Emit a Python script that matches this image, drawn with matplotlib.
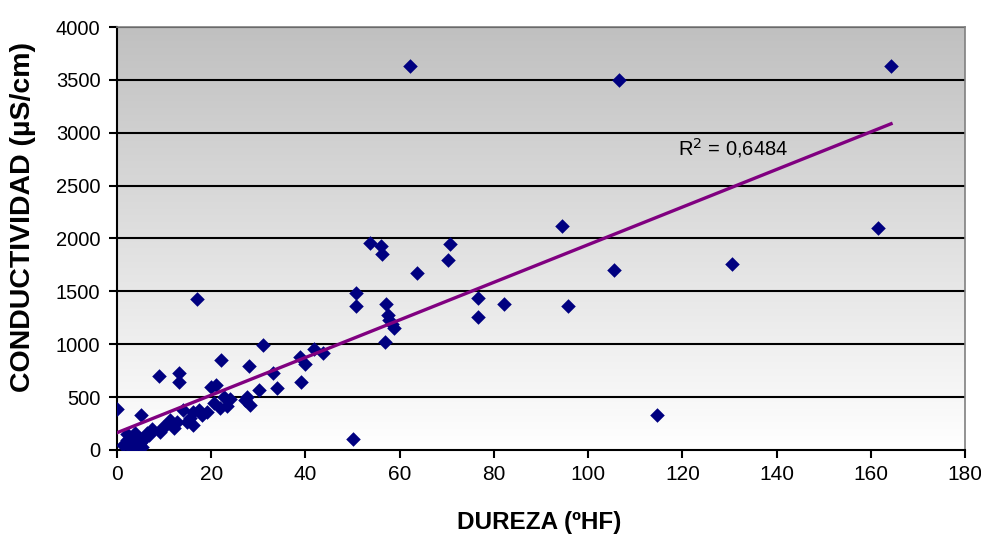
import numpy as np
import matplotlib
matplotlib.use('Agg')
import matplotlib.pyplot as plt
from matplotlib.colors import LinearSegmentedColormap

# Data: hardness (ºHF) vs conductivity (uS/cm)
dureza = [0, 62.2, 106.6, 164.3, 94.5, 161.5, 105.5, 130.5, 114.6, 95.8,
          82.2, 76.7, 76.7, 70.7, 70.3, 63.6, 53.7, 56.0, 56.3, 50.8,
          50.8, 57.1, 57.6, 57.8, 58.8, 56.8, 50.0, 17.0, 5.0, 8.9,
          13.1, 13.1, 22.1, 30.9, 28.0, 19.9, 21.0, 33.2, 33.9, 39.0,
          38.8, 39.9, 41.8, 43.8, 30.2, 27.5, 28.2, 27.2, 22.6, 21.9,
          23.3, 19.0, 16.2, 17.3, 16.2, 14.1, 14.8, 12.7, 11.2, 10.5,
          9.1, 9.8, 7.0, 5.6, 6.3, 4.2, 2.8, 2.1, 1.3, 3.5,
          4.9, 3.8, 2.5, 3.0, 4.5, 6.0, 7.5, 1.8, 5.2, 58.3,
          15.5, 12.0, 20.5, 18.0, 24.0, 2.2, 3.3, 6.8]
conductividad = [385, 3631, 3499, 3631, 2118, 2099, 1702, 1759, 331, 1365,
                 1383, 1440, 1255, 1948, 1797, 1671, 1955, 1929, 1853, 1488,
                 1362, 1380, 1276, 1229, 1151, 1024, 101, 1428, 328, 703,
                 731, 640, 851, 993, 797, 599, 615, 725, 586, 646,
                 882, 810, 955, 920, 567, 504, 425, 473, 504, 394,
                 416, 362, 362, 378, 236, 378, 268, 268, 284, 236,
                 173, 220, 173, 95, 158, 126, 63, 95, 47, 32,
                 63, 158, 40, 110, 90, 120, 200, 70, 30, 1190,
                 300, 210, 440, 330, 480, 150, 80, 140]
r2_text = 'R$^2$ = 0,6484'

x = np.array(dureza)
y = np.array(conductividad)
slope, intercept = np.polyfit(x, y, 1)

fig = plt.figure(figsize=(9.81, 5.38), dpi=100)
ax = fig.add_axes([0.1193, 0.1636, 0.8644, 0.7862])

# gray-to-white gradient background
cmap = LinearSegmentedColormap.from_list('bg', ['#ffffff', '#c0c0c0'])
grad = np.linspace(0, 1, 256).reshape(-1, 1)
ax.imshow(grad, cmap=cmap, aspect='auto', origin='lower',
          extent=[0, 180, 0, 4000], zorder=0)

for yy in range(500, 4001, 500):
    ax.axhline(yy, color='black', lw=1.5, zorder=1)

ax.scatter(x, y, marker='D', s=55, color='#000080', zorder=3, linewidths=0)

xl = np.array([0, x.max()])
ax.plot(xl, intercept + slope * xl, color='#800080', lw=2.4, zorder=4)
ax.text(119, 2790, r2_text, fontsize=14.5, family='Liberation Sans', zorder=5)

ax.set_xlim(0, 180)
ax.set_ylim(0, 4000)
ax.set_xticks(range(0, 181, 20))
ax.set_yticks(range(0, 4001, 500))
ax.tick_params(direction='out', length=6, width=1.5)
ax.tick_params(axis='y', labelsize=14.5, pad=6)
ax.tick_params(axis='x', labelsize=15, pad=5)
for lab in ax.get_xticklabels() + ax.get_yticklabels():
    lab.set_family('Liberation Sans')

for side in ['left', 'bottom']:
    ax.spines[side].set_linewidth(1.5)
for side in ['top', 'right']:
    ax.spines[side].set_color('#808080')
    ax.spines[side].set_linewidth(1.2)

ax.set_xlabel('DUREZA (ºHF)', fontsize=17.5, fontweight='bold',
              family='Liberation Sans')
ax.set_ylabel('CONDUCTIVIDAD (µS/cm)', fontsize=20.5, fontweight='bold',
              family='Liberation Sans')
ax.xaxis.set_label_coords(0.4976, -0.144)
ax.yaxis.set_label_coords(-0.0955, 0.551)

fig.savefig('out.png', dpi=100)
